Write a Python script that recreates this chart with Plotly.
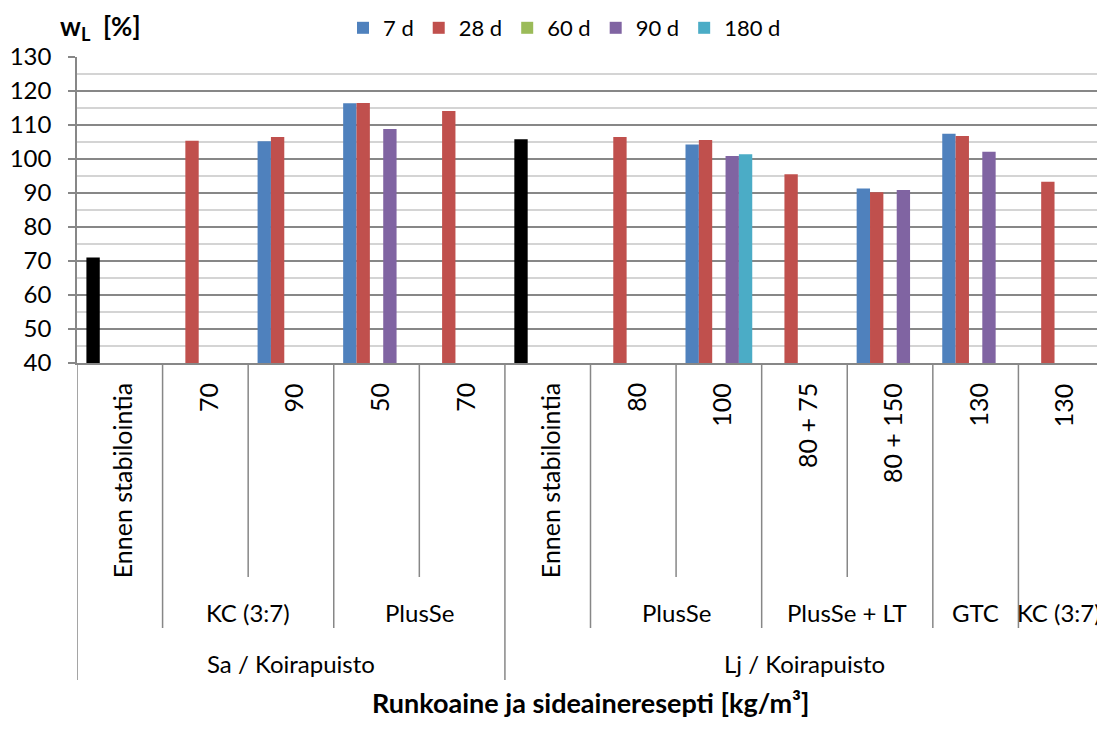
import plotly.graph_objects as go

# --- data ---
recipes = ["Ennen stabilointia", "70", "90", "50", "70",
           "Ennen stabilointia", "80", "100", "80 + 75", "80 + 150", "130", "130"]
binders = [None, "KC (3:7)", "KC (3:7)", "PlusSe", "PlusSe",
           None, "PlusSe", "PlusSe", "PlusSe + LT", "PlusSe + LT", "GTC", "KC (3:7)"]
soils = ["Sa / Koirapuisto"] * 5 + ["Lj / Koirapuisto"] * 7

before = [71.0, None, None, None, None, 105.8, None, None, None, None, None, None]
d7 = [None, None, 105.2, 116.4, None, None, None, 104.3, None, 91.3, 107.4, None]
d28 = [None, 105.4, 106.5, 116.5, 114.1, None, 106.5, 105.6, 95.5, 90.2, 106.8, 93.3]
d60 = [None] * 12
d90 = [None, None, None, 108.8, None, None, None, 100.9, None, 90.9, 102.1, None]
d180 = [None, None, None, None, None, None, None, 101.4, None, None, None, None]

series = [("7 d", d7, "#4F81BD"), ("28 d", d28, "#C0504D"), ("60 d", d60, "#9BBB59"),
          ("90 d", d90, "#8064A2"), ("180 d", d180, "#4BACC6")]

FONT = "Lato"
GRID = "#878787"

# the page body has an 8px margin, so the figure starts 8px in
OFF = 8
W, H = 1105 - OFF, 738 - OFF
# plot area in screenshot pixels: x 77..1104, y 57..363
L, R, T = 77 - OFF, 1, 57 - OFF
B = H - (363 - OFF)
plot_w = W - L - R
plot_h = H - T - B


def py(p):
    # screenshot pixel row -> paper y
    return (363 - p) / plot_h


def px(p):
    return (p - 77) / plot_w


xs = list(range(len(recipes)))
last = len(recipes) - 1

fig = go.Figure()
for name, vals, col in series:
    fig.add_trace(go.Bar(x=xs, y=vals, name=name, marker_color=col,
                         offsetgroup=name, marker_line_width=0))
    if name == "7 d":
        fig.add_trace(go.Bar(x=xs, y=before, name="Ennen stabilointia", marker_color="black",
                             offsetgroup=name, showlegend=False, marker_line_width=0))

# category labels, three levels
ann = []
for i, r in enumerate(recipes):
    ann.append(dict(x=i, y=py(381), xref="x", yref="paper", text=r, textangle=-90,
                    xanchor="center", yanchor="top", xshift=2, showarrow=False,
                    font=dict(size=25, color="black", family=FONT)))


def spans(labels):
    out, start = [], 0
    for i in range(1, len(labels) + 1):
        if i == len(labels) or labels[i] != labels[start] or soils[i] != soils[start]:
            out.append((labels[start], start, i - 1))
            start = i
    return out


for lab, a, b in spans(binders):
    if not lab:
        continue
    if b == last and a == b:
        # too wide for the last slot: keep it inside the plot edge
        ann.append(dict(x=last + 0.5, y=py(612), xref="x", yref="paper", text=lab,
                        xanchor="right", yanchor="middle", xshift=-1, showarrow=False,
                        font=dict(size=24, color="black", family=FONT)))
    else:
        ann.append(dict(x=(a + b) / 2, y=py(612), xref="x", yref="paper", text=lab,
                        xanchor="center", yanchor="middle", showarrow=False,
                        font=dict(size=24, color="black", family=FONT)))
for lab, a, b in spans(soils):
    ann.append(dict(x=(a + b) / 2, y=py(663), xref="x", yref="paper", text=lab,
                    xanchor="center", yanchor="middle", showarrow=False,
                    font=dict(size=24, color="black", family=FONT)))

ann.append(dict(x=px(58), y=py(28), xref="paper", yref="paper",
                text="<b>w<sub>L</sub>\u00a0\u00a0[%]</b>", xanchor="left", yanchor="middle",
                showarrow=False, font=dict(size=26, color="black", family=FONT)))
ann.append(dict(x=0.5, y=py(702), xref="paper", yref="paper",
                text="<b>Runkoaine ja sideaineresepti [kg/m³]</b>", xanchor="center",
                yanchor="middle", showarrow=False,
                font=dict(size=27, color="black", family=FONT)))

# separator lines below the axis
shapes = []
depth_px = {1: 577, 2: 628, 3: 680}
for i in range(len(recipes) + 1):
    if i == 0 or i == len(recipes) or soils[i] != soils[i - 1]:
        d = 3
    elif binders[i] != binders[i - 1] or binders[i] is None:
        d = 2
    else:
        d = 1
    shapes.append(dict(type="line", xref="x", yref="paper", x0=i - 0.5, x1=i - 0.5,
                       y0=0, y1=py(depth_px[d]), line=dict(color=GRID, width=1.5)))

fig.update_layout(
    width=W, height=H,
    margin=dict(l=L, r=R, t=T, b=B, autoexpand=False),
    barmode="group", bargap=0.22, bargroupgap=0,
    plot_bgcolor="white", paper_bgcolor="white",
    font=dict(family=FONT, size=22, color="black"),
    legend=dict(orientation="h", x=px(343), xanchor="left",
                y=py(28), yanchor="middle", font=dict(size=22), itemwidth=30,
                bgcolor="rgba(0,0,0,0)"),
    annotations=ann, shapes=shapes,
    showlegend=True,
)
fig.update_xaxes(range=[-0.5, len(recipes) - 0.5], showticklabels=False, showgrid=False,
                 showline=True, linecolor=GRID, linewidth=1.5, zeroline=False, ticks="")
fig.update_yaxes(range=[40, 130], dtick=10, showgrid=True, gridcolor=GRID, gridwidth=1.5,
                 showline=True, linecolor=GRID, linewidth=1.5, ticks="outside", ticklen=7,
                 tickcolor=GRID, tickwidth=1.5, ticklabelstandoff=12, zeroline=False,
                 tickfont=dict(size=24),
                 minor=dict(dtick=5, showgrid=True, gridcolor="#D4D4D4", gridwidth=1.5))

fig.write_html("out.html")
